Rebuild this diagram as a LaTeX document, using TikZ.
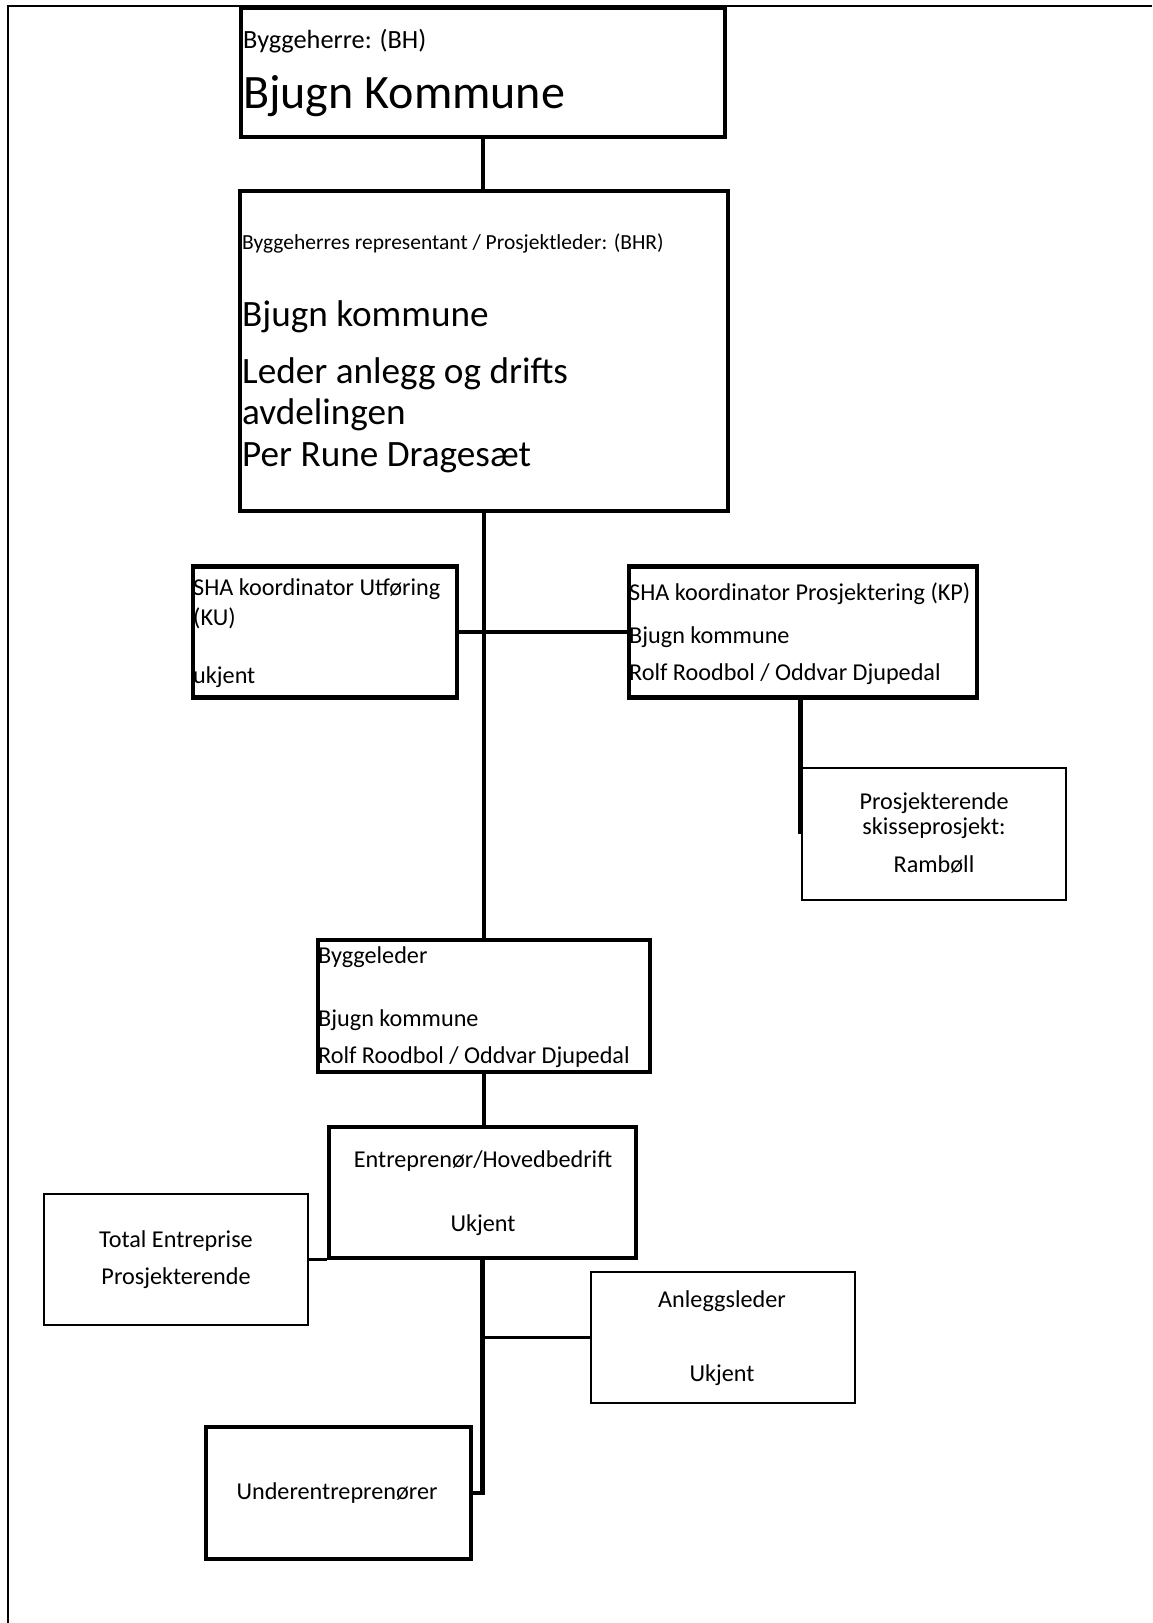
\documentclass[tikz,border=0pt]{standalone}
\usepackage{fontspec}
\setmainfont{Carlito}
\begin{document}
\begin{tikzpicture}[x=1pt,y=-1pt,
  thickbox/.style={draw, rectangle, line width=4.8pt, inner sep=0pt},
  thinbox/.style={draw, rectangle, line width=2.4pt, inner sep=0pt},
  thickline/.style={line width=4.8pt},
  thinline/.style={line width=2.4pt},
  txt/.style={inner sep=0pt, anchor=base west, font=\fontsize{24.2}{29}\selectfont},
  ctxt/.style={inner sep=0pt, anchor=base, font=\fontsize{24.2}{29}\selectfont},
  bigtxt/.style={inner sep=0pt, anchor=base west, font=\fontsize{37.2}{41}\selectfont}]
\useasboundingbox (0,0) rectangle (1152,1623);
% frame
\coordinate (ftl) at (8,6);
\coordinate (ftr) at (1152,6);
\coordinate (fbl) at (8,1623);
\draw[line width=2pt] (ftr) -- (ftl) -- (fbl);
% boxes
\node[thickbox, minimum width=484pt, minimum height=129pt] (bh) at (483,72.5) {};
\node[thickbox, minimum width=488pt, minimum height=320pt] (bhr) at (484,351) {};
\node[thickbox, minimum width=264pt, minimum height=131pt] (ku) at (325,632) {};
\node[thickbox, minimum width=348pt, minimum height=131pt] (kp) at (803,632) {};
\node[thinbox, minimum width=264pt, minimum height=132pt] (pr) at (934,834) {};
\node[thickbox, minimum width=332pt, minimum height=132pt] (bl) at (484,1006) {};
\node[thickbox, minimum width=307pt, minimum height=131pt] (ent) at (482.5,1192.5) {};
\node[thinbox, minimum width=264pt, minimum height=131pt] (te) at (176,1259.5) {};
\node[thinbox, minimum width=264pt, minimum height=131pt] (al) at (723,1337.5) {};
\node[thickbox, minimum width=265pt, minimum height=132pt] (ue) at (338.5,1493) {};
% connectors
\draw[thickline] (bh.south) -- (bh.south |- bhr.north);
\draw[thickline] (bhr.south) -- (bhr.south |- bl.north);
\draw[thickline] (ku.east) -- (kp.west);
\draw[thickline] (kp.south -| pr.west) -- (pr.west);
\draw[thickline] (bl.south) -- (bl.south |- ent.north);
\draw[thickline] (ent.south) |- (ue.east);
\draw[thinline] (te.east) -- (te.east -| ent.west);
\draw[thinline] (al.west -| ent.south) -- (al.west);
% texts
\node[inner sep=0pt, anchor=base west, font=\fontsize{26.3}{30}\selectfont] (t1) at (243,48) {Byggeherre: (BH)};
\node[inner sep=0pt, anchor=base west, font=\fontsize{48}{52}\selectfont] (t2) at (243,108) {Bjugn Kommune};
\node[inner sep=0pt, anchor=base west, font=\fontsize{21.5}{25}\selectfont] (t3) at (242,249) {Byggeherres representant / Prosjektleder: (BHR)};
\node[bigtxt] (t4) at (242,326) {Bjugn kommune};
\node[bigtxt] (t5) at (242,383) {Leder anlegg og drifts};
\node[bigtxt] (t6) at (242,424) {avdelingen};
\node[bigtxt] (t7) at (242,466) {Per Rune Dragesæt};
\node[txt] (t8) at (193,595) {SHA koordinator Utføring};
\node[txt] (t9) at (193,625) {(KU)};
\node[txt] (t10) at (193,683) {ukjent};
\node[txt] (t11) at (629,600) {SHA koordinator Prosjektering (KP)};
\node[txt] (t12) at (629,643) {Bjugn kommune};
\node[txt] (t13) at (629,680) {Rolf Roodbol / Oddvar Djupedal};
\node[ctxt] (t14) at (934,809) {Prosjekterende};
\node[ctxt] (t15) at (934,834) {skisseprosjekt:};
\node[ctxt] (t16) at (934,872) {Rambøll};
\node[txt] (t17) at (318,963) {Byggeleder};
\node[txt] (t18) at (318,1026) {Bjugn kommune};
\node[txt] (t19) at (318,1063) {Rolf Roodbol / Oddvar Djupedal};
\node[ctxt] (t20) at (483,1167) {Entreprenør/Hovedbedrift};
\node[ctxt] (t21) at (483,1231) {Ukjent};
\node[ctxt] (t22) at (176,1247) {Total Entreprise};
\node[ctxt] (t23) at (176,1284) {Prosjekterende};
\node[ctxt] (t24) at (722,1307) {Anleggsleder};
\node[ctxt] (t25) at (722,1381) {Ukjent};
\node[ctxt] (t26) at (337,1499) {Underentreprenører};
\end{tikzpicture}
\end{document}
